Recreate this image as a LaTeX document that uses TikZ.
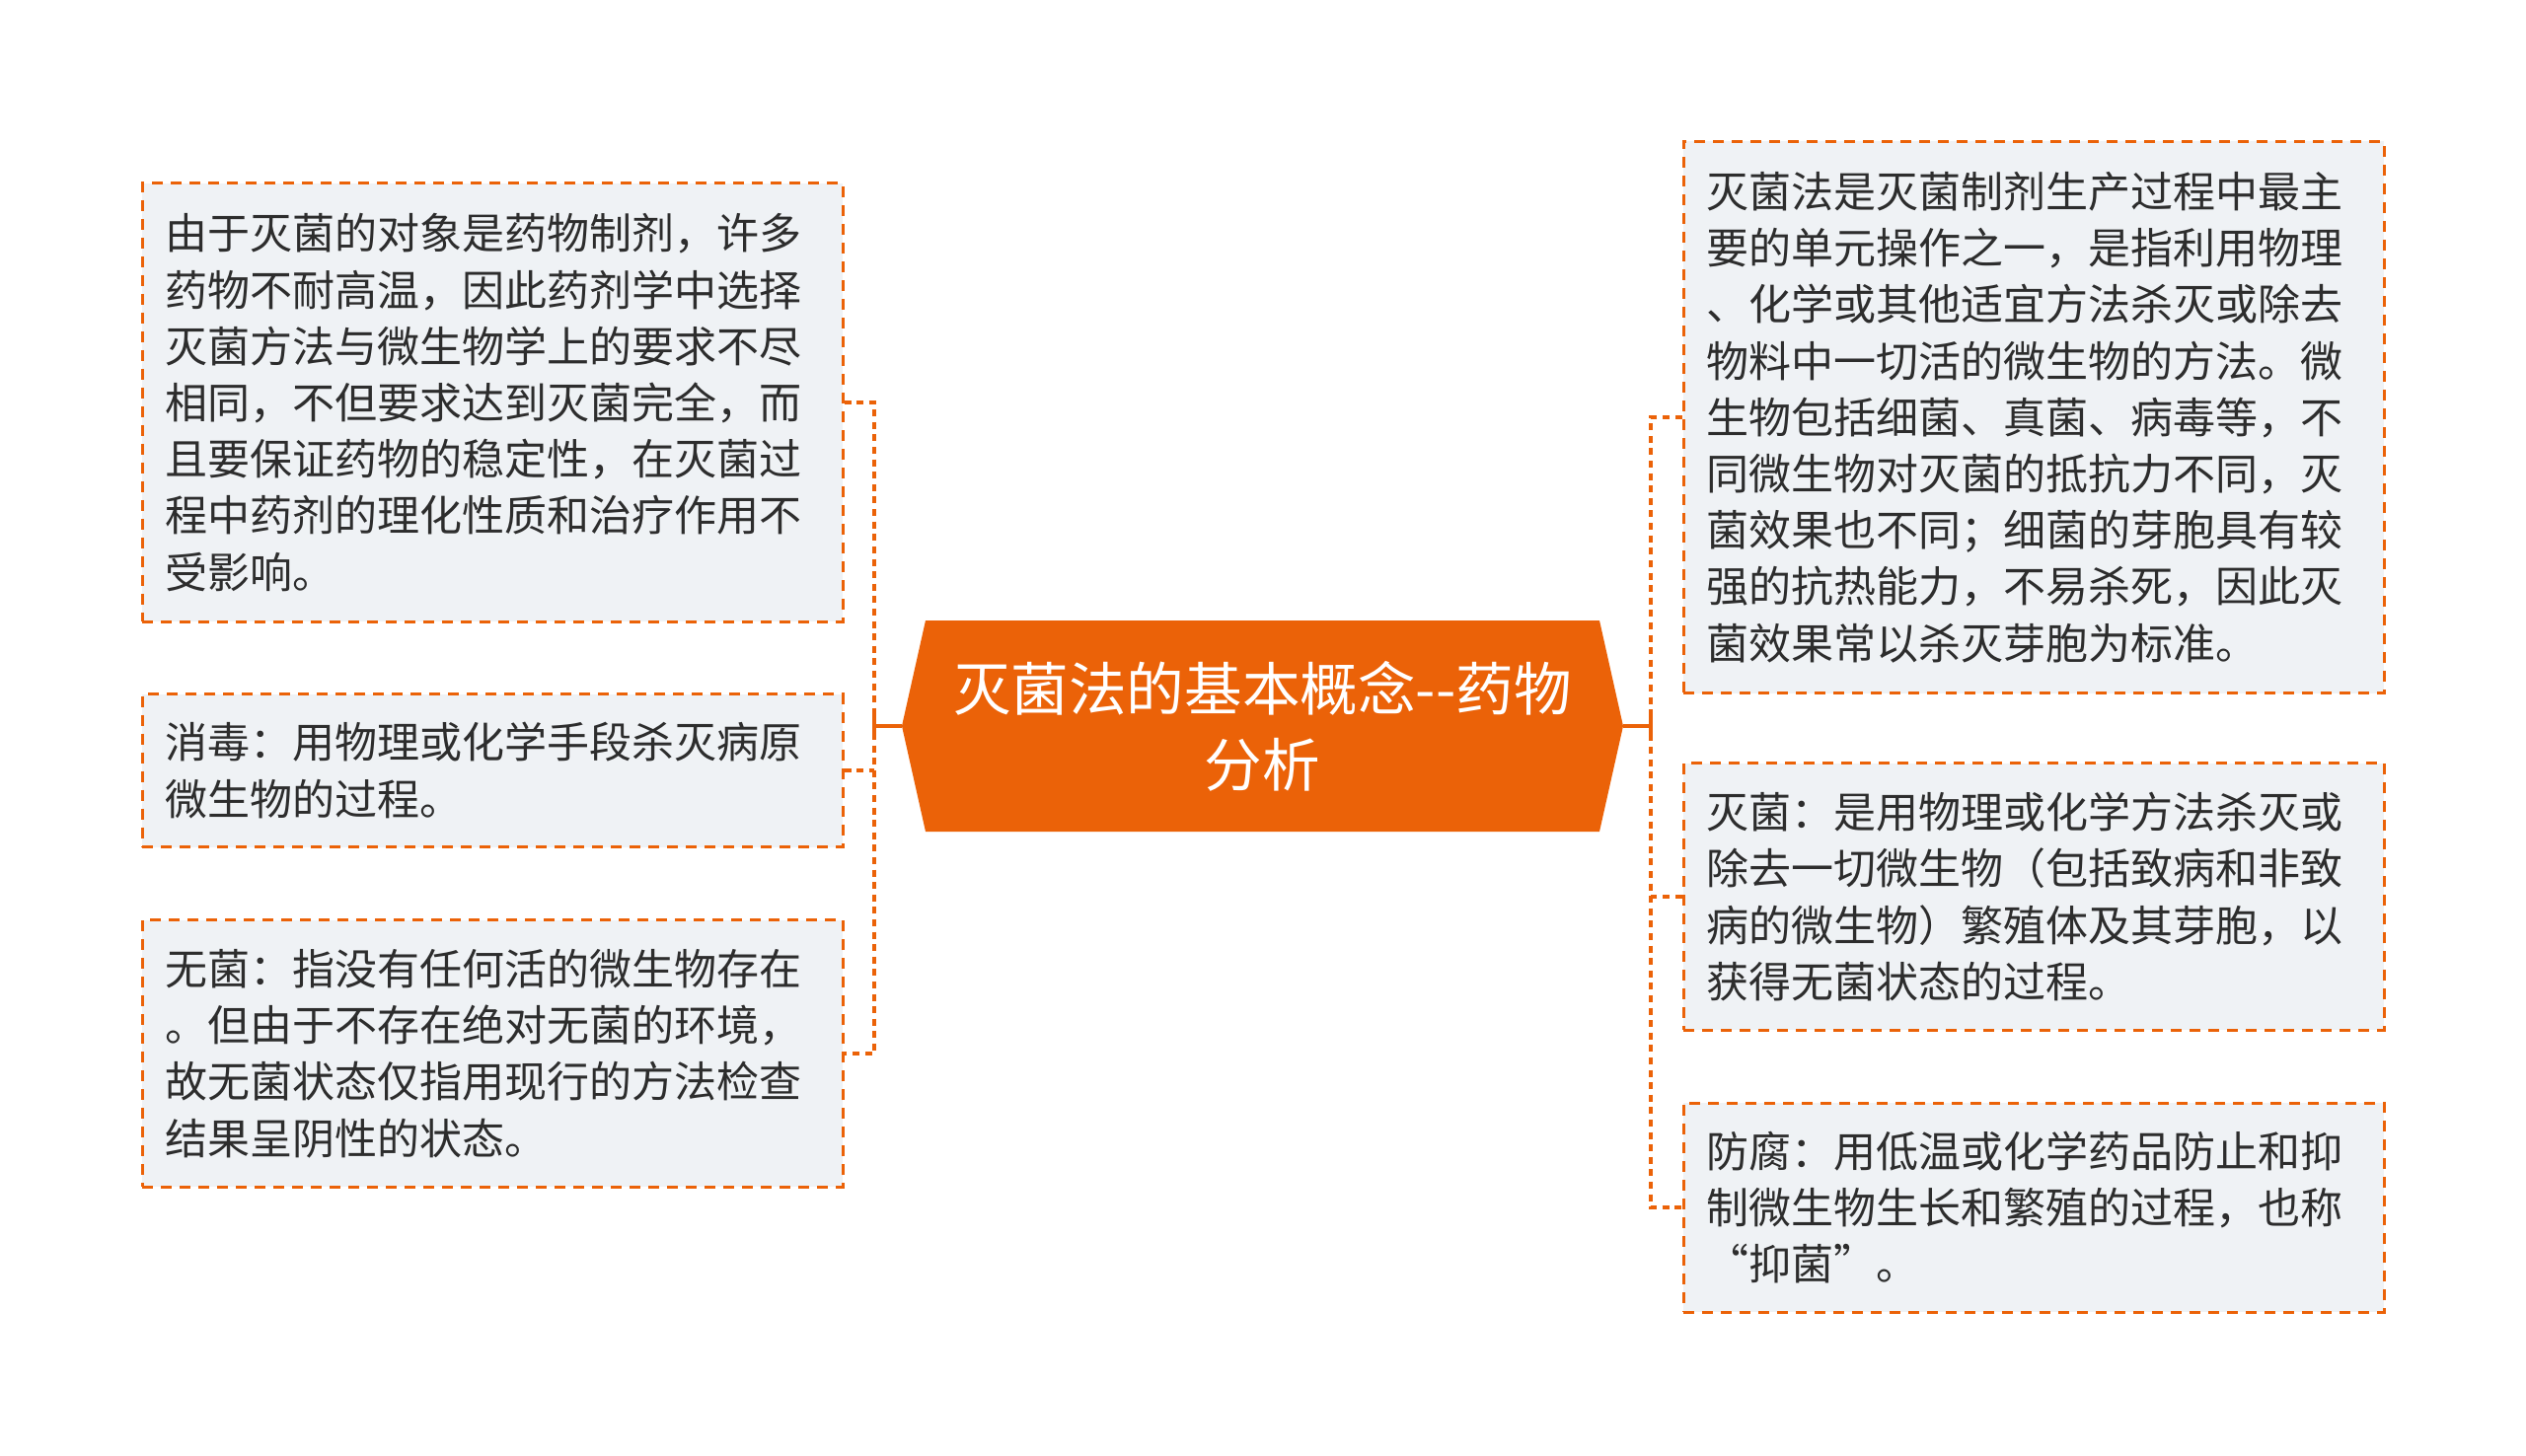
\documentclass[tikz,border=0pt]{standalone}
\usepackage{fontspec}
\newfontfamily\cjk{Noto Sans CJK SC}
\usetikzlibrary{positioning}
\definecolor{mainorange}{RGB}{235,98,8}
\definecolor{boxgray}{RGB}{239,242,245}
\definecolor{textgray}{RGB}{45,45,45}
\tikzset{
  leaf/.style={draw=mainorange, fill=boxgray, line width=1.5pt, dash pattern=on 5.5pt off 4pt,
    text=textgray, font=\cjk\fontsize{21.5}{28.6}\selectfont, align=left,
    text width=332pt, inner xsep=11.5pt, inner ysep=0pt},
  link/.style={draw=mainorange, line width=2pt, dash pattern=on 3.5pt off 2.8pt},
  trunk/.style={draw=mainorange, line width=2pt},
}

\begin{document}
\begin{tikzpicture}[x=0.5pt, y=-0.5pt]
    \useasboundingbox (0,0) rectangle (2560,1476);

    % central topic
    \fill[mainorange] (914,736) -- (938,629) -- (1621,629) -- (1645,736) -- (1621,843) -- (938,843) -- cycle;
    \node[text=white, font=\cjk\fontsize{29.3}{38.5}\selectfont, align=center] (root) at (1279.5,736)
        {灭菌法的基本概念--药物\\分析};
    \coordinate (rootw) at (914,736);
    \coordinate (roote) at (1645,736);

    % left side
    \node[leaf, minimum height=222pt] (l1) at (499,408) {由于灭菌的对象是药物制剂，许多\\药物不耐高温，因此药剂学中选择\\灭菌方法与微生物学上的要求不尽\\相同，不但要求达到灭菌完全，而\\且要保证药物的稳定性，在灭菌过\\程中药剂的理化性质和治疗作用不\\受影响。};
    \node[leaf, minimum height=77.5pt] (l2) at (499,781) {消毒：用物理或化学手段杀灭病原\\微生物的过程。};
    \node[leaf, minimum height=135.3pt] (l3) at (499,1068) {无菌：指没有任何活的微生物存在\\。但由于不存在绝对无菌的环境，\\故无菌状态仅指用现行的方法检查\\结果呈阴性的状态。};

    % right side
    \node[leaf, minimum height=279.6pt] (r1) at (2061,423) {灭菌法是灭菌制剂生产过程中最主\\要的单元操作之一，是指利用物理\\、化学或其他适宜方法杀灭或除去\\物料中一切活的微生物的方法。微\\生物包括细菌、真菌、病毒等，不\\同微生物对灭菌的抵抗力不同，灭\\菌效果也不同；细菌的芽胞具有较\\强的抗热能力，不易杀死，因此灭\\菌效果常以杀灭芽胞为标准。};
    \node[leaf, minimum height=135.3pt] (r2) at (2061,909) {灭菌：是用物理或化学方法杀灭或\\除去一切微生物（包括致病和非致\\病的微生物）繁殖体及其芽胞，以\\获得无菌状态的过程。};
    \node[leaf, minimum height=106pt] (r3) at (2061,1224) {防腐：用低温或化学药品防止和抑\\制微生物生长和繁殖的过程，也称\\“抑菌”。};

    % connectors
    \coordinate (lj) at (886,736);
    \coordinate (rj) at (1673,736);
    \draw[trunk] (rootw) -- (lj) ++(0,-11) -- ++(0,22);
    \draw[trunk] (roote) -- (rj) ++(0,-11) -- ++(0,22);
    \draw[link] (l1.east) -- (l1.east -| lj) -- (l3.east -| lj) -- (l3.east);
    \draw[link] (l2.east) -- (l2.east -| lj);
    \draw[link] (r1.west) -- (r1.west -| rj) -- (r3.west -| rj) -- (r3.west);
    \draw[link] (r2.west) -- (r2.west -| rj);
\end{tikzpicture}
\end{document}
